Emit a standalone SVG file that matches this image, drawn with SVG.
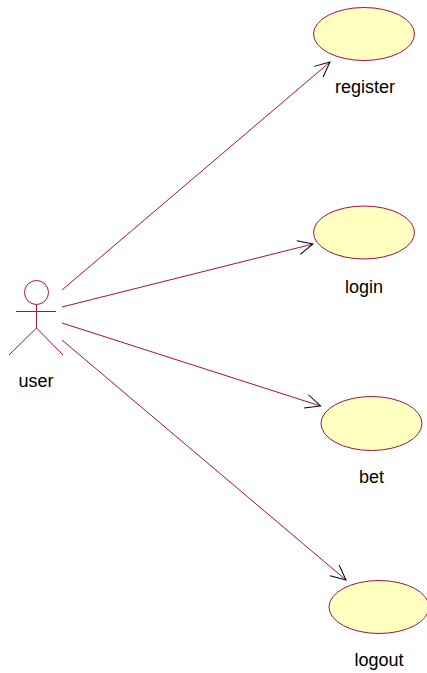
<svg xmlns="http://www.w3.org/2000/svg" width="427" height="673" viewBox="0 0 427 673">
<style>
.uc{fill:#ffffc0;stroke:#a0104a;stroke-width:1}
.act{fill:none;stroke:#a0104a;stroke-width:1}
.lbl{font-family:"Liberation Sans",Arial,sans-serif;font-size:18px;fill:#000;text-anchor:middle}
.conn{stroke:#a0104a;stroke-width:1;fill:none}
</style>
<defs>
<marker id="arr" markerUnits="userSpaceOnUse" markerWidth="20" markerHeight="20" refX="0" refY="0" viewBox="-16 -10 18 20" orient="auto" overflow="visible">
<path d="M-15,-7 L0,0 L-15,7" fill="none" stroke="#000" stroke-width="1"/>
</marker>
</defs>
<rect width="427" height="673" fill="#fff"/>
<g id="user">
<circle class="act" cx="36.5" cy="292.5" r="12"/>
<line class="act" x1="16" y1="311.5" x2="56" y2="311.5"/>
<line class="act" x1="36.5" y1="304.5" x2="36.5" y2="328"/>
<line class="act" x1="36.5" y1="328" x2="9" y2="355"/>
<line class="act" x1="36.5" y1="328" x2="63" y2="355"/>
<text class="lbl" x="36" y="387">user</text>
</g>
<g id="register">
<ellipse class="uc" cx="364" cy="34" rx="50.5" ry="26.5"/>
<text class="lbl" x="365" y="93">register</text>
</g>
<g id="login">
<ellipse class="uc" cx="364" cy="232.5" rx="50.5" ry="26.5"/>
<text class="lbl" x="364" y="293">login</text>
</g>
<g id="bet">
<ellipse class="uc" cx="371.5" cy="423.5" rx="50.5" ry="27"/>
<text class="lbl" x="371.5" y="483">bet</text>
</g>
<g id="logout">
<ellipse class="uc" cx="379" cy="607" rx="50" ry="26.5"/>
<text class="lbl" x="379" y="666">logout</text>
</g>
<g id="connectors">
<line class="conn" x1="62" y1="290" x2="330" y2="62" marker-end="url(#arr)"/>
<line class="conn" x1="62" y1="307" x2="313" y2="244" marker-end="url(#arr)"/>
<line class="conn" x1="62" y1="323" x2="320.5" y2="406" marker-end="url(#arr)"/>
<line class="conn" x1="62" y1="340" x2="346" y2="580" marker-end="url(#arr)"/>
</g>
</svg>
